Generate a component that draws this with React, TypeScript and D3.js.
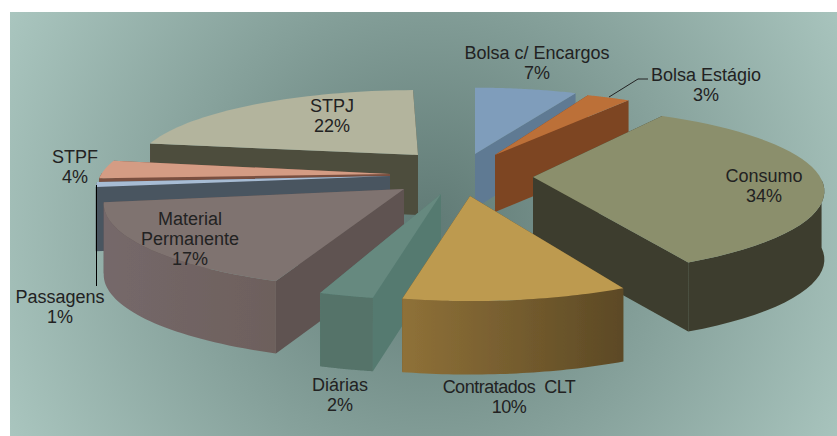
import React from "react";
import * as d3 from "d3";

const W = 837, H = 436;
const categories = ["Bolsa c/ Encargos", "Bolsa Estágio", "Consumo", "Contratados  CLT", "Diárias", "Material Permanente", "Passagens", "STPF", "STPJ"];
const shares = [7, 3, 33.8, 10.4, 2.4, 16.6, 1, 3.6, 22.2];

// styling and layout per slice, same order as categories
const topColors = ["#7f9dbb", "#bc6f39", "#8b8f6c", "#bd9a50", "#66897f", "#7f7370", "#a7bcd4", "#d49c84", "#b3b49d"];
const sideColors = ["#5f7a93", "#7d4522", "#3d3d2d", "#5c4925", "#557a70", "#5e5351", "#4a5560", "#7a5040", "#4e4d3d"];
const wallLeft = ["#5f7a93", "#7d4522", "#3d3d2d", "#8f7138", "#547369", "#75686a", "#4a5560", "#7a5040", "#4e4d3d"];
const wallRight = ["#5f7a93", "#7d4522", "#3d3d2d", "#5c4925", "#547369", "#6d605c", "#4a5560", "#7a5040", "#4e4d3d"];
const apexX = [475, 495, 533, 470, 441, 404, 390, 390, 418];
const apexY = [154, 155, 177, 196, 194, 189, 176, 174, 155];
const depth = [54, 57, 68, 72, 72, 71, 64, 60, 60];
const spin = [2, 0, -3, -2, -2.5, -0.4, 0.7, 1.8, 0.8];
const reachX = [0.93, 0.93, 0.98, 1.0, 1.05, 1.01, 0.99, 0.985, 0.95];
const reachY = [0.97, 0.94, 1.02, 1.09, 1.1, 1.04, 1, 1, 0.95];
const paintOrder = [8, 7, 6, 0, 1, 2, 5, 4, 3];

const labelLines = [["Bolsa c/ Encargos", "7%"], ["Bolsa Estágio", "3%"], ["Consumo", "34%"], ["Contratados  CLT", "10%"], ["Diárias", "2%"], ["Material", "Permanente", "17%"], ["Passagens", "1%"], ["STPF", "4%"], ["STPJ", "22%"]];
const labelX = [537, 706, 764, 509, 340, 190, 60, 75, 332];
const labelY = [59, 81, 182, 393, 391, 225, 303, 163, 112];
const labelSpacing = [0, 0, 0, -0.5, 0, 0, 0, 0, 0];

const RX = 293, RY = 80, PERSP = 0.17, ROT = -2;
const rad = (d: number) => (d * Math.PI) / 180;

function project(theta: number, i: number) {
  const c = -Math.cos(theta);
  const s = 1 / (1 - PERSP * c);
  return [apexX[i] + reachX[i] * RX * Math.sin(theta) * s, apexY[i] + reachY[i] * RY * c * s, s];
}
const pathOf = (pts: number[][]) => d3.line().curve(d3.curveLinear)(pts.map((p) => [p[0], p[1]] as [number, number]))! + "Z";

const arcs = d3.pie<number>().sort(null).startAngle(rad(ROT)).endAngle(rad(ROT + 360))(shares);

function Slice({ i }: { i: number }) {
  const a = arcs[i];
  const ax = apexX[i], ay = apexY[i], h = depth[i];
  const steps = d3.range(0, 41).map((k) => a.startAngle + rad(spin[i]) + ((a.endAngle - a.startAngle) * k) / 40);
  const rim = steps.map((t) => project(t, i));
  const down = (p: number[]) => [p[0], p[1] + h * (0.9 + 0.1 * p[2])];
  const apex = [ax, ay];
  const apexB = [ax, ay + h];
  const wall = (p: number[]) => pathOf([apex, p, down(p), apexB]);
  const startWall = wall(rim[0]);
  const endWall = wall(rim[rim.length - 1]);
  const walls = rim[0][1] < rim[rim.length - 1][1] ? [startWall, endWall] : [endWall, startWall];
  const front = rim.filter((_, k) => -Math.cos(steps[k]) > -0.02);
  const frontX = d3.extent(front, (p) => p[0]) as [number, number];
  return (
    <g>
      <defs>
        <linearGradient id={`w${i}`} gradientUnits="userSpaceOnUse" x1={frontX[0]} x2={frontX[1]} y1={0} y2={0}>
          <stop offset="0" stopColor={wallLeft[i]} />
          <stop offset="1" stopColor={wallRight[i]} />
        </linearGradient>
      </defs>
      {walls.map((d, k) => <path key={k} d={d} fill={sideColors[i]} />)}
      {front.length > 1 && (
        <path d={pathOf([...front, ...front.slice().reverse().map(down)])} fill={`url(#w${i})`} />
      )}
      <path d={pathOf([apex, ...rim])} fill={topColors[i]} />
    </g>
  );
}

export default function App() {
  return (
    <svg width={W} height={H} style={{ position: "absolute", left: 0, top: 0 }} fontFamily="'Liberation Sans', Arial, sans-serif">
      <defs>
        <radialGradient id="bg" gradientUnits="userSpaceOnUse" cx={430} cy={225} r={480}>
          <stop offset="0" stopColor="#607a75" />
          <stop offset="1" stopColor="#abc7c0" />
        </radialGradient>
        <filter id="soft" x="0" y="0" width="1" height="1">
          <feGaussianBlur stdDeviation={0.4} />
        </filter>
      </defs>
      <rect width={W} height={H} fill="#fff" />
      <rect x={10} y={12} width={W - 10} height={H - 12} fill="url(#bg)" />
      <g filter="url(#soft)">
        <rect x={0} y={0} width={W} height={H} fill="none" />
        {paintOrder.map((i) => <Slice key={i} i={i} />)}
        <path d={d3.line()([[609, 97], [638, 79], [648, 79]])!} fill="none" stroke="#222" strokeWidth={1} />
        <path d={d3.line()([[96.5, 185], [96.5, 286]])!} fill="none" stroke="#000" strokeWidth={1} />
      </g>
      {labelLines.map((lines, i) => (
        <text key={i} x={labelX[i]} y={labelY[i]} textAnchor="middle" fontSize={18} fill="#222" letterSpacing={labelSpacing[i]} style={{ whiteSpace: "pre" }}>
          {lines.map((l, k) => <tspan key={k} x={labelX[i]} dy={k ? 20 : 0}>{l}</tspan>)}
        </text>
      ))}
    </svg>
  );
}
